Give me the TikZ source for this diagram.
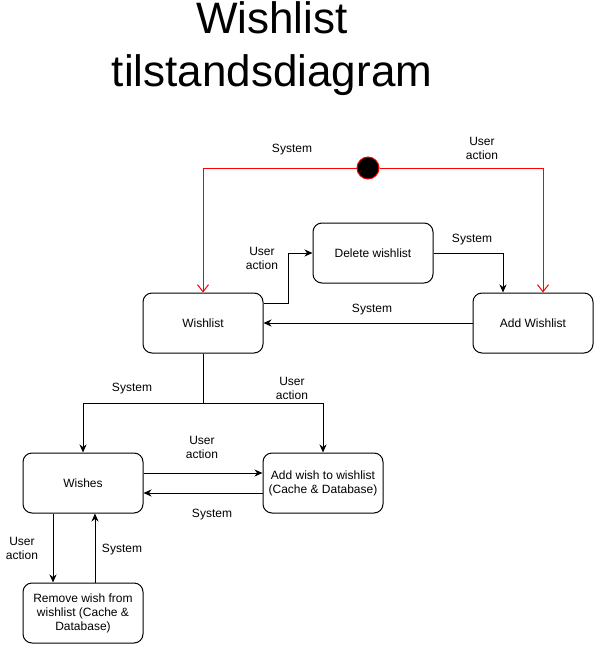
\documentclass[tikz,border=0pt]{standalone}
\usepackage{fontspec}
\setmainfont{Liberation Sans}
\usetikzlibrary{arrows.meta}
\begin{document}
\begin{tikzpicture}[x=1pt,y=-1pt,
  statebox/.style={draw, line width=1pt, rounded corners=9pt, minimum width=120pt, minimum height=60pt, inner sep=2pt, align=center, font=\fontsize{12}{14}\selectfont},
  lbl/.style={align=center, inner sep=0pt, font=\fontsize{12}{14}\selectfont},
  arr/.style={line width=1pt, -{Stealth[length=8pt,width=7pt,inset=2.5pt]}},
  redarr/.style={line width=1pt, draw=red, -{Straight Barb[length=7pt,width=11pt,line width=1pt]}}]
\useasboundingbox (0,0) rectangle (609,646);
% title
\node[align=center, inner sep=0pt, font=\fontsize{44}{53}\selectfont] (title) at (272,49) {Wishlist\\tilstandsdiagram};
% states
\node[circle, fill=black, draw=red, line width=1pt, minimum size=22pt, inner sep=0pt] (init) at (368,168) {};
\node[statebox] (wl) at (203,323) {Wishlist};
\node[statebox] (del) at (373,253) {Delete wishlist};
\node[statebox] (add) at (533,323) {Add Wishlist};
\node[statebox] (wishes) at (83,483) {Wishes};
\node[statebox] (addw) at (323,483) {Add wish to wishlist\\(Cache \& Database)};
\node[statebox] (rem) at (83,613) {Remove wish from\\wishlist (Cache \&\\Database)};
\coordinate (br) at (203,403);
% red initial transitions
\draw[redarr] (init.west) -| (wl.north);
\draw[redarr] (init.east) -| ([xshift=10pt]add.north);
% black transitions
\draw[arr] ([yshift=20pt]wl.east) -- ++(25,0) |- (del.west);
\draw[arr] (del.east) -| ([xshift=-30pt]add.north);
\draw[arr] (add.west) -- (wl.east);
\draw[line width=1pt] (wl.south) -- (br);
\draw[arr] (br) -| (wishes.north);
\draw[arr] (br) -| (addw.north);
\draw[arr] ([yshift=10pt]wishes.east) -- ([yshift=10pt]addw.west);
\draw[arr] ([yshift=-10pt]addw.west) -- ([yshift=-10pt]wishes.east);
\draw[arr] ([xshift=-30pt]wishes.south) -- ([xshift=-30pt]rem.north);
\draw[arr] ([xshift=12pt]rem.north) -- ([xshift=12pt]wishes.south);
% labels
\node[lbl] (l1) at (292,150) {System};
\node[lbl] (l2) at (482,148) {User\\action};
\node[lbl] (l3) at (262,258) {User\\action};
\node[lbl] (l4) at (472,240) {System};
\node[lbl] (l5) at (372,310) {System};
\node[lbl] (l6) at (132,389) {System};
\node[lbl] (l7) at (292,388) {User\\action};
\node[lbl] (l8) at (202,447) {User\\action};
\node[lbl] (l9) at (212,515) {System};
\node[lbl] (l10) at (22,548) {User\\action};
\node[lbl] (l11) at (122,550) {System};
\end{tikzpicture}
\end{document}
